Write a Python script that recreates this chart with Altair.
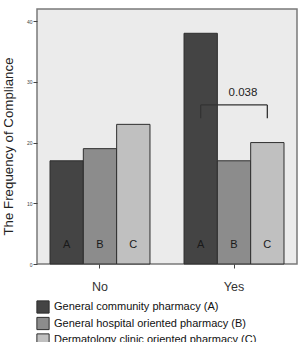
import altair as alt
import pandas as pd

# Compliance counts per answer and pharmacy type
answers = ["No", "Yes"]
pharmacy_codes = ["A", "B", "C"]
pharmacy_names = [
    "General community pharmacy (A)",
    "General hospital oriented pharmacy (B)",
    "Dermatology clinic oriented pharmacy (C)",
]
counts_no = [17, 19, 23]
counts_yes = [38, 17, 20]
bar_colors = ["#444444", "#8c8c8c", "#c0c0c0"]

# Significance bracket between A and C within "Yes"
p_label = "0.038"
bracket_top = 26.2
bracket_bottom = 24.0
p_label_y = 27.4
letter_y = 3.2

rows = []
for answer, counts in zip(answers, [counts_no, counts_yes]):
    for code, name, count in zip(pharmacy_codes, pharmacy_names, counts):
        rows.append({"Answer": answer, "Code": code, "Pharmacy": name, "Count": count})
df = pd.DataFrame(rows)

FONT = "Liberation Sans"

x_enc = alt.X(
    "Answer:N",
    sort=answers,
    scale=alt.Scale(paddingInner=0.254, paddingOuter=0.097),
    axis=alt.Axis(
        title=None, labelAngle=0, labelFontSize=12.5, labelFont=FONT, labelColor="#333333",
        tickSize=4, tickColor="#444444", labelPadding=12, domain=False,
    ),
)
xoff_enc = alt.XOffset("Code:N", sort=pharmacy_codes)
y_scale = alt.Scale(domain=[0, 42], nice=False)

bars = alt.Chart(df).mark_bar(stroke="#2e2e2e", strokeWidth=1).encode(
    x=x_enc,
    xOffset=xoff_enc,
    y=alt.Y(
        "Count:Q",
        scale=y_scale,
        axis=alt.Axis(
            title="The Frequency of Compliance", values=[0, 10, 20, 30, 40],
            titleFont=FONT, titleFontSize=13.3, titleFontWeight="normal", titleColor="#222222",
            titleX=-29, titleY=137, titleBaseline="middle",
            labelFontSize=5, labelFont=FONT, labelColor="#444444", labelPadding=1,
            tickSize=4, tickColor="#444444", grid=False, domain=False,
        ),
    ),
    color=alt.Color(
        "Pharmacy:N",
        sort=pharmacy_names,
        scale=alt.Scale(domain=pharmacy_names, range=bar_colors),
        legend=alt.Legend(
            title=None, orient="none", legendX=-1, legendY=291,
            symbolType="square", symbolSize=150, symbolStrokeColor="#2e2e2e",
            symbolStrokeWidth=1, symbolOpacity=1,
            labelFont=FONT, labelFontSize=11, labelColor="#111111",
            rowPadding=-1.5, labelOffset=4, labelLimit=300,
        ),
    ),
)

letters = alt.Chart(df).mark_text(fontSize=11, font=FONT, color="#1a1a1a").encode(
    x=alt.X("Answer:N", sort=answers),
    xOffset=alt.XOffset("Code:N", sort=pharmacy_codes),
    y=alt.datum(letter_y, scale=y_scale),
    text="Code:N",
)

legs_df = pd.DataFrame({
    "Answer": ["Yes", "Yes"],
    "Code": ["A", "C"],
    "lo": [bracket_bottom, bracket_bottom],
    "hi": [bracket_top, bracket_top],
})
legs = alt.Chart(legs_df).mark_rule(color="#333333", strokeWidth=1.3).encode(
    x=alt.X("Answer:N", sort=answers),
    xOffset=alt.XOffset("Code:N", sort=pharmacy_codes),
    y=alt.Y("lo:Q", scale=y_scale),
    y2="hi:Q",
)

top_df = pd.DataFrame({
    "Answer": ["Yes", "Yes"],
    "Code": ["A", "C"],
    "v": [bracket_top, bracket_top],
    "ord": [0, 1],
})
top_line = alt.Chart(top_df).mark_line(color="#333333", strokeWidth=1.3).encode(
    x=alt.X("Answer:N", sort=answers),
    xOffset=alt.XOffset("Code:N", sort=pharmacy_codes),
    y=alt.Y("v:Q", scale=y_scale),
    order="ord:Q",
)

p_df = pd.DataFrame({"Answer": ["Yes"], "Code": ["B"], "v": [p_label_y], "t": [p_label]})
p_text = alt.Chart(p_df).mark_text(fontSize=11.5, font=FONT, color="#222222", baseline="bottom", dx=9).encode(
    x=alt.X("Answer:N", sort=answers),
    xOffset=alt.XOffset("Code:N", sort=pharmacy_codes),
    y=alt.Y("v:Q", scale=y_scale),
    text="t:N",
)

chart = alt.layer(bars, letters, legs, top_line, p_text).properties(
    width=260,
    height=255,
    autosize=alt.AutoSizeParams(type="none"),
    padding={"left": 37, "top": 9, "right": 3, "bottom": 78},
    background="white",
).configure_view(
    fill="#ebebeb", stroke="#7a7a7a", strokeWidth=1.5,
)

chart.save("out.html", embed_options={"renderer": "svg", "actions": False})
